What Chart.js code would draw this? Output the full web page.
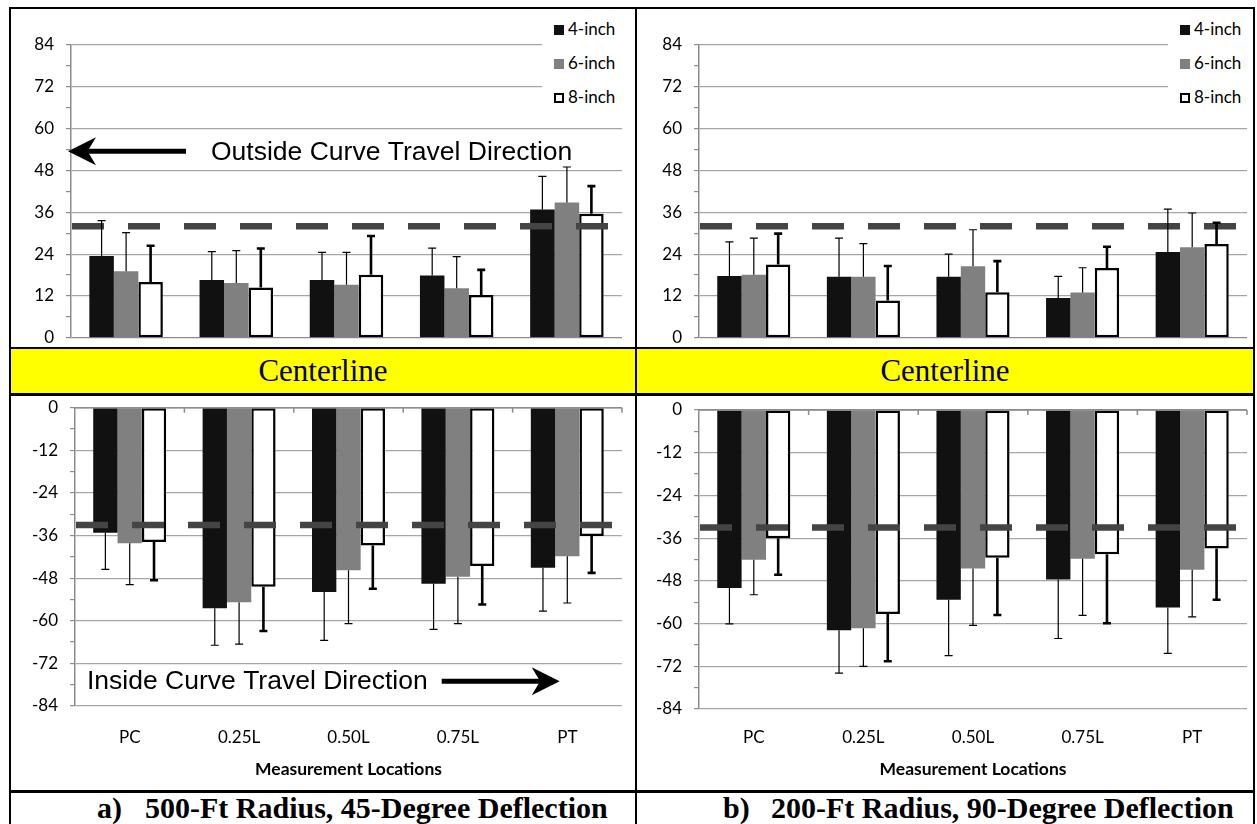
<!DOCTYPE html>
<html>
<head>
<meta charset="utf-8">
<script src="https://cdn.jsdelivr.net/npm/chart.js@4.4.1/dist/chart.umd.min.js"></script>
<style>
  html, body { margin: 0; padding: 0; background: #fff; }
  #page { position: relative; width: 1257px; height: 824px; overflow: hidden; background: #fff; }
  canvas { position: absolute; z-index: 1; }
  .rule { position: absolute; background: #000; z-index: 5; }
  .band { position: absolute; top: 349px; height: 44px; background: #ffff00; z-index: 4;
          font-family: "Liberation Serif", "Times New Roman", serif; font-size: 31px;
          line-height: 44px; text-align: center; color: #000; }
  .cap { position: absolute; top: 792px; z-index: 4; white-space: pre;
         font-family: "Liberation Serif", "Times New Roman", serif; font-weight: bold;
         font-size: 30px; line-height: 32px; color: #000; }
  .legend { position: absolute; z-index: 3; background: #fff; font-family: Lato, sans-serif;
            font-size: 17px; color: #000; }
  .legend div { position: absolute; left: 0; height: 20px; line-height: 20px; white-space: nowrap; }
  .legend span.sw { display: inline-block; width: 10px; height: 10px; margin-right: 4px;
                    box-sizing: border-box; vertical-align: 0px; }
</style>
</head>
<body>
<div id="page">
  <canvas id="cTL"></canvas>
  <canvas id="cTR"></canvas>
  <canvas id="cBL"></canvas>
  <canvas id="cBR"></canvas>

  <div class="band" style="left:11px;width:624px;">Centerline</div>
  <div class="band" style="left:637px;width:616px;">Centerline</div>

  <div class="legend" id="legTL" style="left:542px;top:14px;width:88px;height:100px;"></div>
  <div class="legend" id="legTR" style="left:1168px;top:14px;width:84px;height:100px;"></div>

  <div class="cap" style="left:97px;">a)</div>
  <div class="cap" style="left:145px;">500-Ft Radius, 45-Degree Deflection</div>
  <div class="cap" style="left:723px;">b)</div>
  <div class="cap" style="left:771px;">200-Ft Radius, 90-Degree Deflection</div>

  <div class="rule" style="left:9px;top:7px;width:1246px;height:2px;"></div>
  <div class="rule" style="left:9px;top:7px;width:2px;height:817px;"></div>
  <div class="rule" style="left:1253px;top:7px;width:2px;height:817px;"></div>
  <div class="rule" style="left:635px;top:7px;width:2px;height:817px;"></div>
  <div class="rule" style="left:9px;top:347px;width:1246px;height:2px;"></div>
  <div class="rule" style="left:9px;top:393px;width:1246px;height:3px;"></div>
  <div class="rule" style="left:9px;top:790px;width:1246px;height:3px;"></div>
</div>

<script>
// Measurement locations along the curve and the three pavement thicknesses
const locations = ['PC', '0.25L', '0.50L', '0.75L', 'PT'];
const thicknesses = ['4-inch', '6-inch', '8-inch'];

// (a) 500-ft radius, 45-degree deflection — outside of curve (mean, std. dev.)
const outsideA4 = [23.5, 16.6, 16.6, 17.9, 36.8];
const outsideA6 = [19.1, 15.7, 15.2, 14.2, 38.8];
const outsideA8 = [16.0, 14.4, 18.1, 12.3, 35.6];
const outsideA4sd = [10.1, 8.1, 7.9, 7.8, 9.5];
const outsideA6sd = [11.1, 9.3, 9.3, 9.1, 10.2];
const outsideA8sd = [10.4, 11.2, 11.1, 7.2, 7.9];

// (a) inside of curve
const insideA4 = [-35.2, -56.5, -51.9, -49.6, -45.1];
const insideA6 = [-38.2, -54.8, -45.8, -47.6, -41.8];
const insideA8 = [-37.8, -50.4, -38.8, -44.6, -36.1];
const insideA4sd = [10.3, 10.4, 13.6, 12.8, 12.2];
const insideA6sd = [11.6, 11.8, 15.0, 13.2, 13.2];
const insideA8sd = [10.8, 12.5, 12.2, 10.8, 10.4];

// (b) 200-ft radius, 90-degree deflection — outside of curve
const outsideB4 = [17.7, 17.5, 17.5, 11.4, 24.6];
const outsideB6 = [18.1, 17.5, 20.5, 13.0, 26.0];
const outsideB8 = [21.0, 10.7, 13.1, 20.0, 26.9];
const outsideB4sd = [9.8, 11.1, 6.5, 6.2, 12.3];
const outsideB6sd = [10.5, 9.5, 10.5, 7.1, 9.8];
const outsideB8sd = [8.9, 9.9, 8.9, 6.1, 6.1];

// (b) inside of curve
const insideB4 = [-50.0, -61.9, -53.3, -47.6, -55.5];
const insideB6 = [-42.1, -61.3, -44.5, -41.8, -44.9];
const insideB8 = [-36.0, -57.3, -41.5, -40.5, -38.9];
const insideB4sd = [10.1, 12.0, 15.7, 16.6, 12.9];
const insideB6sd = [9.8, 10.7, 16.0, 15.9, 13.2];
const insideB8sd = [10.3, 13.3, 16.1, 19.4, 14.4];

// Reference offsets (lane edge) drawn as dashed lines
const outsideRef = 32;
const insideRef = -33;

const fills = ['#111111', '#808080', '#ffffff'];
const tickFont = { family: 'Lato', size: 17 };

// Error bars: thin for solid bars, heavy for the outlined bar
const errorBarPlugin = {
  id: 'errorBars',
  afterDatasetsDraw(chart) {
    const { ctx } = chart;
    const y = chart.scales.y;
    chart.data.datasets.forEach((ds, i) => {
      const meta = chart.getDatasetMeta(i);
      const heavy = i === 2;
      ctx.save();
      ctx.strokeStyle = '#000';
      ctx.lineWidth = heavy ? 2.6 : 1.2;
      meta.data.forEach((bar, j) => {
        const v = ds.data[j];
        const end = v + Math.sign(v) * ds.sd[j];
        const y0 = y.getPixelForValue(v);
        const y1 = y.getPixelForValue(end);
        ctx.beginPath();
        ctx.moveTo(bar.x, y0);
        ctx.lineTo(bar.x, y1);
        ctx.moveTo(bar.x - 4, y1);
        ctx.lineTo(bar.x + 4, y1);
        ctx.stroke();
      });
      ctx.restore();
    });
  }
};

// Dashed reference line, the axis line at zero and the direction arrow
const overlayPlugin = {
  id: 'overlay',
  afterDatasetsDraw(chart, args, opts) {
    const { ctx, chartArea: a } = chart;
    const y = chart.scales.y;
    const x = chart.scales.x;
    ctx.save();
    // reference line
    const ry = y.getPixelForValue(opts.ref);
    ctx.strokeStyle = '#444444';
    ctx.lineWidth = 6.5;
    ctx.setLineDash([32, 24]);
    ctx.beginPath();
    ctx.moveTo(a.left + 1, ry);
    ctx.lineTo(a.right, ry);
    ctx.stroke();
    ctx.setLineDash([]);
    // category axis along zero for the lower panels
    if (opts.zeroTicks) {
      const zy = y.getPixelForValue(0);
      ctx.strokeStyle = '#8c8c8c';
      ctx.lineWidth = 1.5;
      ctx.beginPath();
      ctx.moveTo(a.left, zy);
      ctx.lineTo(a.right, zy);
      for (let i = 1; i <= locations.length; i++) {
        const bx = i < locations.length
          ? (x.getPixelForValue(i - 1) + x.getPixelForValue(i)) / 2
          : a.right;
        ctx.moveTo(bx, zy);
        ctx.lineTo(bx, zy + 5);
      }
      ctx.stroke();
    }
    ctx.restore();
  },
  afterDraw(chart, args, opts) {
    if (!opts.arrow) return;
    const { ctx, chartArea: a } = chart;
    const y = chart.scales.y;
    const ar = opts.arrow;
    const ay = y.getPixelForValue(ar.value);
    ctx.save();
    ctx.font = '26.5px "Liberation Sans", Arial, sans-serif';
    ctx.fillStyle = '#000';
    ctx.strokeStyle = '#000';
    ctx.textBaseline = 'middle';
    const headL = 28, headH = 14, shaft = 5;
    let tip, tail;
    if (ar.dir === 'left') {
      tip = a.left - 3;
      tail = a.left + 115;
      ctx.fillText(ar.text, tail + 25, ay + 1);
    } else {
      const tx = a.left + 12;
      ctx.fillText(ar.text, tx, ay + 1);
      tail = tx + ctx.measureText(ar.text).width + 14;
      tip = tail + 118;
    }
    const s = ar.dir === 'left' ? 1 : -1;
    ctx.lineWidth = shaft;
    ctx.beginPath();
    ctx.moveTo(tail, ay);
    ctx.lineTo(tip + s * headL * 0.6, ay);
    ctx.stroke();
    ctx.beginPath();
    ctx.moveTo(tip, ay);
    ctx.lineTo(tip + s * headL, ay - headH);
    ctx.lineTo(tip + s * headL * 0.7, ay);
    ctx.lineTo(tip + s * headL, ay + headH);
    ctx.closePath();
    ctx.fill();
    ctx.restore();
  }
};

function barSets(d4, d6, d8, s4, s6, s8) {
  const vals = [d4, d6, d8], sds = [s4, s6, s8];
  return thicknesses.map((name, i) => ({
    label: name,
    data: vals[i],
    sd: sds[i],
    backgroundColor: fills[i],
    borderColor: '#000',
    borderWidth: i === 2 ? 2.5 : 0,
    borderSkipped: false,
    categoryPercentage: 0.667,
    barPercentage: 1.0
  }));
}

function makePanel(id, box, cfg) {
  const el = document.getElementById(id);
  el.style.left = box.left + 'px';
  el.style.top = box.top + 'px';
  el.width = box.width;
  el.height = box.height;
  el.style.width = box.width + 'px';
  el.style.height = box.height + 'px';

  const upper = cfg.upper;
  const xScale = upper
    ? { display: false }
    : {
        position: 'bottom',
        grid: { display: false, drawTicks: false },
        border: { display: false },
        ticks: { padding: cfg.tickPad, font: tickFont, color: '#000' },
        title: {
          display: true,
          text: 'Measurement Locations',
          font: { family: 'Lato', size: 17.5, weight: 'bold' },
          color: '#000',
          padding: { top: 4, bottom: 4 }
        },
        afterFit(s) { s.height = cfg.xHeight; }
      };

  return new Chart(el, {
    type: 'bar',
    data: { labels: locations, datasets: cfg.datasets },
    options: {
      responsive: false,
      animation: false,
      devicePixelRatio: 1,
      layout: { padding: cfg.pad },
      plugins: {
        legend: { display: false },
        tooltip: { enabled: false },
        overlay: { ref: cfg.ref, zeroTicks: !upper, arrow: cfg.arrow }
      },
      scales: {
        x: xScale,
        y: {
          min: upper ? 0 : -84,
          max: upper ? 84 : 0,
          afterFit(s) { s.width = cfg.yWidth; },
          ticks: {
            stepSize: 6,
            autoSkip: false,
            padding: 12,
            font: tickFont,
            color: '#000',
            callback: v => (v % 12 === 0 ? String(v) : '')
          },
          grid: {
            color: c => {
              const v = c.tick ? c.tick.value : 1;
              if (v === 0) return '#8c8c8c';
              return v % 12 === 0 ? '#a6a6a6' : 'rgba(0,0,0,0)';
            },
            lineWidth: 1.2,
            tickColor: '#8c8c8c',
            tickLength: 5
          },
          border: { color: '#8c8c8c', width: 1.5 }
        }
      }
    },
    plugins: [overlayPlugin, errorBarPlugin]
  });
}

makePanel('cTL', { left: 10, top: 8, width: 625, height: 352 }, {
  upper: true,
  datasets: barSets(outsideA4, outsideA6, outsideA8, outsideA4sd, outsideA6sd, outsideA8sd),
  ref: outsideRef,
  yWidth: 61,
  pad: { left: 0, right: 13, top: 37, bottom: 15 },
  arrow: { dir: 'left', value: 53.5, text: 'Outside Curve Travel Direction' }
});

makePanel('cTR', { left: 636, top: 8, width: 619, height: 352 }, {
  upper: true,
  datasets: barSets(outsideB4, outsideB6, outsideB8, outsideB4sd, outsideB6sd, outsideB8sd),
  ref: outsideRef,
  yWidth: 63,
  pad: { left: 0, right: 8, top: 37, bottom: 15 }
});

makePanel('cBL', { left: 10, top: 380, width: 625, height: 411 }, {
  upper: false,
  datasets: barSets(insideA4, insideA6, insideA8, insideA4sd, insideA6sd, insideA8sd),
  ref: insideRef,
  yWidth: 65,
  xHeight: 78,
  tickPad: 21,
  pad: { left: 0, right: 13, top: 27.7, bottom: 7 },
  arrow: { dir: 'right', value: -77, text: 'Inside Curve Travel Direction' }
});

makePanel('cBR', { left: 636, top: 380, width: 619, height: 411 }, {
  upper: false,
  datasets: barSets(insideB4, insideB6, insideB8, insideB4sd, insideB6sd, insideB8sd),
  ref: insideRef,
  yWidth: 63,
  xHeight: 75,
  tickPad: 18,
  pad: { left: 0, right: 8, top: 30, bottom: 7 }
});

// Legends for the upper panels
function buildLegend(id) {
  const box = document.getElementById(id);
  const swatch = [
    'background:#111111;',
    'background:#808080;',
    'background:#fff;border:2px solid #000;'
  ];
  thicknesses.forEach((name, i) => {
    const row = document.createElement('div');
    row.style.top = (5 + i * 34) + 'px';
    row.style.left = '12px';
    row.innerHTML = '<span class="sw" style="' + swatch[i] + '"></span>' + name;
    box.appendChild(row);
  });
}
buildLegend('legTL');
buildLegend('legTR');
</script>
</body>
</html>
